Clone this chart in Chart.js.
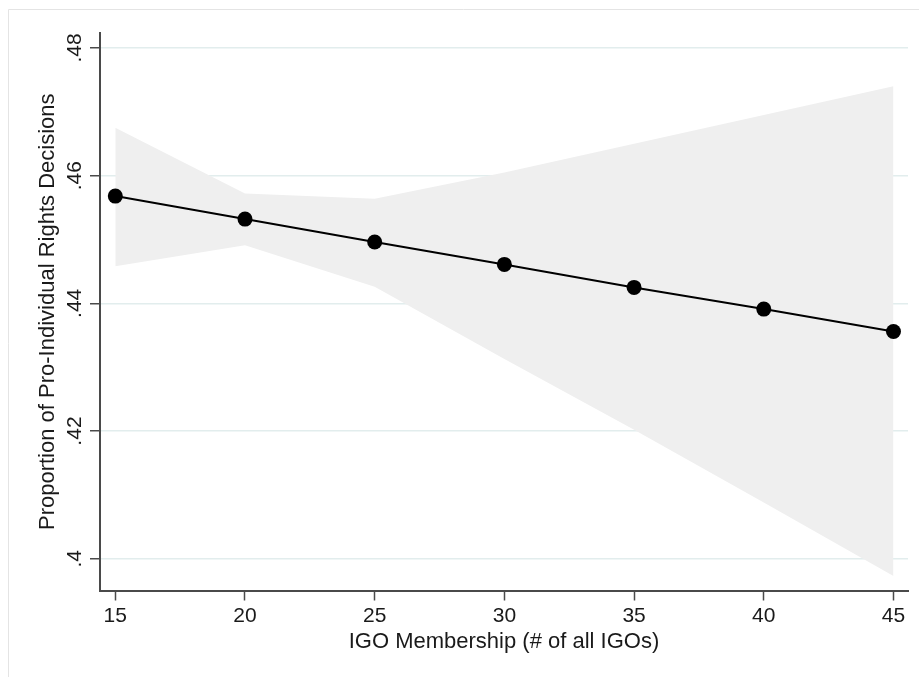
<!DOCTYPE html>
<html>
<head>
<meta charset="utf-8">
<script src="https://cdn.jsdelivr.net/npm/chart.js@4"></script>
<style>
  html, body { margin: 0; padding: 0; background: #ffffff; }
  #wrap { width: 919px; height: 677px; position: relative; }
</style>
</head>
<body>
<div id="wrap"><canvas id="c" width="919" height="677"></canvas></div>
<script>
// ---- data ----
const xValues    = [15, 20, 25, 30, 35, 40, 45];
const predicted  = [0.4568, 0.4532, 0.4496, 0.4461, 0.4425, 0.4391, 0.4356];
const ciUpper    = [0.4675, 0.4572, 0.4564, 0.4605, 0.4650, 0.4695, 0.4740];
const ciLower    = [0.4458, 0.4491, 0.4426, 0.4313, 0.4202, 0.4088, 0.3973];
const xTicks     = [15, 20, 25, 30, 35, 40, 45];
const yTicks     = [0.40, 0.42, 0.44, 0.46, 0.48];
const yTickLabels = ['.4', '.42', '.44', '.46', '.48'];
const xTitle = 'IGO Membership (# of all IGOs)';
const yTitle = 'Proportion of Pro-Individual Rights Decisions';

const FONT = '"Liberation Sans", Arial, Helvetica, sans-serif';
const AXIS_COLOR = '#4a4a4a';
const GRID_COLOR = '#e2eded';
const TEXT_COLOR = '#1a1a1a';

const pts = arr => xValues.map((x, i) => ({ x: x, y: arr[i] }));

const frame = {
  id: 'frame',
  beforeDraw(chart) {
    const ctx = chart.ctx;
    ctx.save();
    ctx.fillStyle = '#ffffff';
    ctx.fillRect(0, 0, chart.width, chart.height);
    ctx.strokeStyle = '#e4e4e4';
    ctx.lineWidth = 1;
    ctx.beginPath();
    ctx.moveTo(8.5, chart.height);
    ctx.lineTo(8.5, 9.5);
    ctx.lineTo(chart.width, 9.5);
    ctx.stroke();
    ctx.restore();
  }
};

const yLabels = {
  id: 'yLabels',
  afterDraw(chart) {
    const s = chart.scales.y;
    const ctx = chart.ctx;
    ctx.save();
    ctx.font = '21px ' + FONT;
    ctx.fillStyle = TEXT_COLOR;
    ctx.textAlign = 'center';
    ctx.textBaseline = 'middle';
    yTicks.forEach((v, i) => {
      const py = s.getPixelForValue(v);
      ctx.save();
      ctx.translate(s.right - 25, py);
      ctx.rotate(-Math.PI / 2);
      ctx.fillText(yTickLabels[i], 0, 0);
      ctx.restore();
    });
    ctx.restore();
  }
};

new Chart(document.getElementById('c'), {
  type: 'line',
  data: {
    datasets: [
      {
        label: 'Predicted',
        data: pts(predicted),
        borderColor: '#000000',
        borderWidth: 2,
        backgroundColor: '#000000',
        pointRadius: 7.5,
        pointBackgroundColor: '#000000',
        pointBorderWidth: 0,
        tension: 0,
        fill: false,
        order: 0
      },
      {
        label: 'Lower',
        data: pts(ciLower),
        borderColor: 'rgba(0,0,0,0)',
        borderWidth: 0,
        pointRadius: 0,
        fill: false,
        tension: 0,
        order: 2
      },
      {
        label: 'Upper',
        data: pts(ciUpper),
        borderColor: 'rgba(0,0,0,0)',
        borderWidth: 0,
        pointRadius: 0,
        backgroundColor: '#efefef',
        fill: '-1',
        tension: 0,
        order: 1
      }
    ]
  },
  options: {
    responsive: false,
    animation: false,
    devicePixelRatio: 1,
    layout: { padding: { left: 35, top: 33, right: 11, bottom: 22 } },
    plugins: {
      legend: { display: false },
      tooltip: { enabled: false },
      filler: { propagate: false }
    },
    scales: {
      x: {
        type: 'linear',
        min: 14.41,
        max: 45.56,
        afterBuildTicks(scale) { scale.ticks = xTicks.map(v => ({ value: v })); },
        afterFit(scale) { scale.height = 64.5; },
        grid: { drawOnChartArea: false, drawTicks: true, tickLength: 10, tickColor: AXIS_COLOR, tickWidth: 1.5 },
        border: { display: true, color: AXIS_COLOR, width: 2 },
        ticks: {
          color: TEXT_COLOR,
          font: { family: FONT, size: 21 },
          padding: 3,
          maxRotation: 0,
          minRotation: 0,
          callback: v => String(v)
        },
        title: {
          display: true,
          text: xTitle,
          color: TEXT_COLOR,
          font: { family: FONT, size: 22 },
          padding: 0
        }
      },
      y: {
        type: 'linear',
        min: 0.39502,
        max: 0.48235,
        afterBuildTicks(scale) { scale.ticks = yTicks.map(v => ({ value: v })); },
        afterFit(scale) { scale.width = 65; },
        grid: { color: GRID_COLOR, lineWidth: 1.5, drawTicks: true, tickLength: 10, tickColor: AXIS_COLOR, tickWidth: 1.5 },
        border: { display: true, color: AXIS_COLOR, width: 2 },
        ticks: { display: false },
        title: {
          display: true,
          text: yTitle,
          color: TEXT_COLOR,
          font: { family: FONT, size: 22 },
          padding: 0
        }
      }
    }
  },
  plugins: [frame, yLabels]
});
</script>
</body>
</html>
